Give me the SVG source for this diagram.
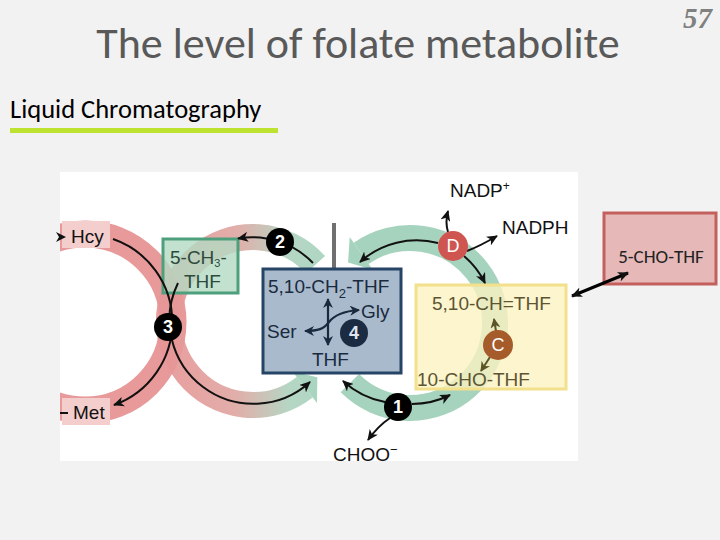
<svg xmlns="http://www.w3.org/2000/svg" width="720" height="540" viewBox="0 0 720 540">
<defs>
<style>
.t{font-family:"Liberation Sans",Arial,sans-serif;font-size:19px}
.ln{fill:none;stroke:#111;stroke-width:2}
.nd{fill:#000}
.nt{font-family:"Liberation Sans",Arial,sans-serif;font-size:18px;font-weight:bold;fill:#fff;text-anchor:middle}
</style>
<clipPath id="img"><rect x="60" y="172" width="518" height="289"/></clipPath>
<linearGradient id="mid" gradientUnits="userSpaceOnUse" x1="169" y1="0" x2="337" y2="0">
<stop offset="0" stop-color="#e69696"/>
<stop offset="0.4" stop-color="#dfa7a2"/>
<stop offset="0.72" stop-color="#aed3bf"/>
<stop offset="1" stop-color="#a6d3bd"/>
</linearGradient>
<marker id="ah" markerUnits="userSpaceOnUse" markerWidth="12" markerHeight="10" refX="10" refY="5" orient="auto-start-reverse">
<path d="M0,0 L11,5 L0,10 L3,5 z" fill="#111"/>
</marker>
<marker id="an" markerUnits="userSpaceOnUse" markerWidth="11" markerHeight="10" refX="9" refY="5" orient="auto-start-reverse">
<path d="M0,0 L10,5 L0,10 L3,5 z" fill="#1a2a3e"/>
</marker>
<marker id="ao" markerUnits="userSpaceOnUse" markerWidth="11" markerHeight="10" refX="9" refY="5" orient="auto-start-reverse">
<path d="M0,0 L10,5 L0,10 L3,5 z" fill="#5b5426"/>
</marker>
</defs>
<rect width="720" height="540" fill="#f2f2f2"/>
<text x="358" y="58" font-family="Carlito,'Liberation Sans',sans-serif" font-size="44" fill="#595959" text-anchor="middle">The level of folate metabolite</text>
<text x="712" y="28" font-family="'Liberation Serif',serif" font-size="29" font-style="italic" font-weight="bold" fill="#808080" text-anchor="end">57</text>
<text x="10" y="118" font-family="Carlito,'Liberation Sans',sans-serif" font-size="26.5" fill="#000">Liquid Chromatography</text>
<rect x="10" y="128" width="268" height="5" fill="#bde22f"/>

<rect x="60" y="172" width="518" height="289" fill="#fff"/>
<g id="bands" clip-path="url(#img)">
<circle cx="85" cy="322" r="88" fill="none" stroke="#e89a9a" stroke-width="27"/>
<rect x="62" y="221" width="48" height="27" fill="#f4cdcd"/>
<rect x="62" y="398" width="48" height="27" fill="#f4cdcd"/>
<path d="M315.4,264.8 A84,84 0 1,0 304.7,387.2" fill="none" stroke="url(#mid)" stroke-width="26" opacity="0.92"/>
<polygon points="317.3,377.3 317,403 292.4,371.4" fill="#a9d4bf"/>
<path d="M349.9,383.1 A85,85 0 1,0 361.2,253.4" fill="none" stroke="#a6d3bd" stroke-width="26"/>
<polygon points="348.1,262.6 349.7,237 372.7,269.8" fill="#a6d3bd"/>
<rect x="332" y="223" width="4" height="45" fill="#707070"/>
</g>

<g id="n_ch3thf">
<rect x="163" y="239" width="75" height="54" fill="#b3dbc3" fill-opacity="0.8" stroke="#4e9f7c" stroke-width="3"/>
<text class="t" x="170" y="264" fill="#2e4a3c">5-CH<tspan font-size="11" dy="3">3</tspan><tspan dy="-3">-</tspan></text>
<text class="t" x="184" y="288" fill="#2e4a3c">THF</text>
</g>

<g id="n_ch2thf">
<rect x="263" y="269" width="138" height="104" fill="#a9bacd" stroke="#264566" stroke-width="3"/>
<text class="t" x="268" y="293" fill="#1a2a3e">5,10-CH<tspan font-size="13" dy="5">2</tspan><tspan dy="-5">-THF</tspan></text>
<text class="t" x="361" y="318" fill="#1a2a3e">Gly</text>
<text class="t" x="267" y="338" fill="#1a2a3e">Ser</text>
<text class="t" x="312" y="366" fill="#1a2a3e">THF</text>
</g>

<g id="n_chthf">
<rect x="416" y="285" width="150" height="104" fill="#fdf2c0" fill-opacity="0.78" stroke="#f2e08c" stroke-width="3"/>
<text class="t" x="432" y="310" fill="#5c5433">5,10-CH=THF</text>
<text class="t" x="417" y="386" fill="#5c5433">10-CHO-THF</text>
</g>

<g id="n_chothf">
<rect x="604" y="213" width="112" height="71" fill="#e6b9b8" stroke="#c3605e" stroke-width="3"/>
<text x="661" y="263" font-family="Carlito,'Liberation Sans',sans-serif" font-size="19" fill="#222" text-anchor="middle">5-CHO-THF</text>
</g>

<g id="connectors">
<path class="ln" d="M113,239 A88,88 0 0,1 114,405" marker-end="url(#ah)"/>
<polygon points="56,232 66,237 56,242 59,237" fill="#111"/>
<path class="ln" d="M60,413 L68,413"/>
<path class="ln" d="M313,263 A84,84 0 0,0 238,238.5" marker-end="url(#ah)"/>
<path class="ln" d="M178,283 A84,84 0 0,0 310,382" marker-end="url(#ah)"/>
<path class="ln" d="M438,243 A85,85 0 0,0 360,262" marker-end="url(#ah)"/>
<path class="ln" d="M464,256 A85,85 0 0,1 485,283" marker-end="url(#ah)"/>
<path class="ln" d="M448,232 Q445,222 448,211" marker-end="url(#ah)"/>
<path class="ln" d="M467,251 Q480,246 497,236" marker-end="url(#ah)"/>
<path class="ln" d="M385,402 A85,85 0 0,1 343,381" marker-end="url(#ah)"/>
<path class="ln" d="M412,404 A85,85 0 0,0 450,395" marker-end="url(#ah)"/>
<path class="ln" d="M390,418 Q378,426 368,440" marker-end="url(#ah)"/>
<path d="M328,299 L328,345" fill="none" stroke="#1a2a3e" stroke-width="2.2" marker-start="url(#an)" marker-end="url(#an)"/>
<path d="M305,331 C318,331 324,329 329,322 C335,314 346,311 359,310" fill="none" stroke="#1a2a3e" stroke-width="2.2" marker-start="url(#an)" marker-end="url(#an)"/>
<path d="M496,331 L494,319" fill="none" stroke="#5b5426" stroke-width="2" marker-end="url(#ao)"/>
<path d="M490,357 L481,371" fill="none" stroke="#5b5426" stroke-width="2" marker-end="url(#ao)"/>
<path d="M572,296 L628,273" fill="none" stroke="#000" stroke-width="3" marker-start="url(#ah)" marker-end="url(#ah)"/>
</g>

<g id="n1"><circle class="nd" cx="398" cy="407" r="14"/><text class="nt" x="398" y="413">1</text></g>
<g id="n2"><circle class="nd" cx="280" cy="242" r="14"/><text class="nt" x="280" y="248">2</text></g>
<g id="n3"><circle class="nd" cx="168" cy="327" r="14"/><text class="nt" x="168" y="333">3</text></g>
<g id="n4"><circle cx="354" cy="333" r="14" fill="#1b2b42"/><text class="nt" x="354" y="339" style="fill:#dfe5ec">4</text></g>
<g id="nD"><circle cx="453" cy="246" r="15" fill="#cf5551"/><text class="nt" x="453" y="252" style="font-weight:normal">D</text></g>
<g id="nC"><circle cx="498" cy="345" r="15" fill="#a65b2a"/><text class="nt" x="498" y="351" style="font-weight:normal">C</text></g>

<g id="labels">
<text class="t" x="71" y="243" fill="#111">Hcy</text>
<text class="t" x="73" y="419" fill="#111">Met</text>
<text class="t" x="450" y="197" fill="#111">NADP<tspan font-size="12" dy="-7">+</tspan></text>
<text class="t" x="502" y="234" fill="#111">NADPH</text>
<text class="t" x="333" y="461" fill="#111">CHOO<tspan font-size="13" dy="-7">−</tspan></text>
</g>
</svg>
